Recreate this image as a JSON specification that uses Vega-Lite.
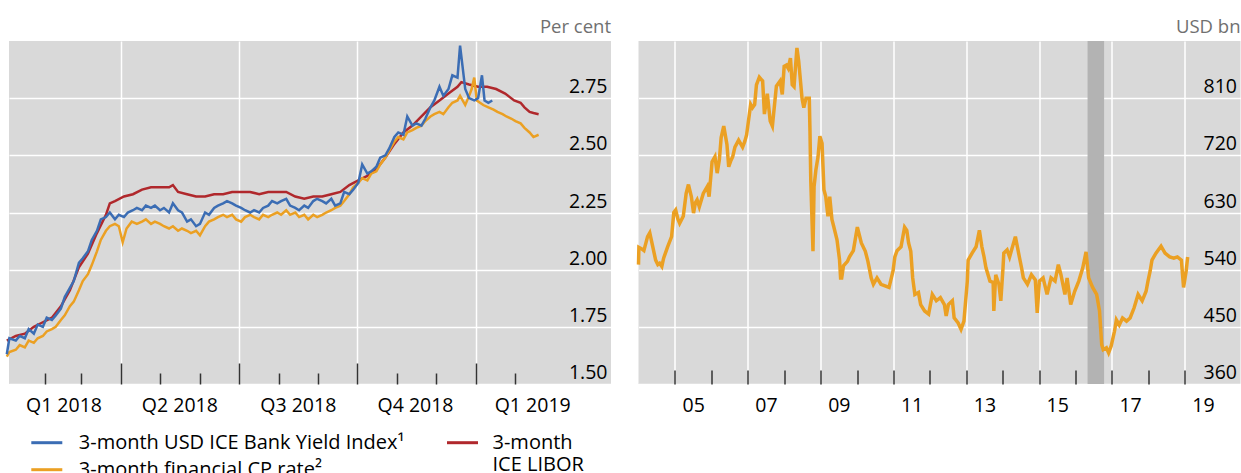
{
  "$schema": "https://vega.github.io/schema/vega-lite/v6.json",
  "background": "white",
  "padding": {"left": 1, "top": 18, "right": 1, "bottom": 2},
  "config": {
    "font": "Open Sans",
    "view": {"stroke": null, "fill": "#d9d9d9"},
    "axis": {"labelFontSize": 19.5, "labelColor": "#000000", "labelFont": "Open Sans", "labelFlush": false, "labelOverlap": false, "domain": false, "title": null},
    "legend": {"labelFont": "Open Sans"}
  },
  "datasets": {
    "libor": [
      {"d":"2018-01-02","v":1.69},{"d":"2018-01-09","v":1.71},{"d":"2018-01-16","v":1.72},{"d":"2018-01-23","v":1.75},{"d":"2018-01-30","v":1.77},
      {"d":"2018-02-06","v":1.79},{"d":"2018-02-13","v":1.84},{"d":"2018-02-20","v":1.91},{"d":"2018-02-27","v":2.01},{"d":"2018-03-06","v":2.07},
      {"d":"2018-03-13","v":2.16},{"d":"2018-03-20","v":2.24},{"d":"2018-03-23","v":2.29},{"d":"2018-03-27","v":2.30},{"d":"2018-04-03","v":2.32},
      {"d":"2018-04-10","v":2.33},{"d":"2018-04-17","v":2.35},{"d":"2018-04-24","v":2.36},{"d":"2018-05-01","v":2.36},{"d":"2018-05-08","v":2.36},
      {"d":"2018-05-11","v":2.37},{"d":"2018-05-15","v":2.34},{"d":"2018-05-22","v":2.33},{"d":"2018-05-29","v":2.32},{"d":"2018-06-05","v":2.32},
      {"d":"2018-06-12","v":2.33},{"d":"2018-06-19","v":2.33},{"d":"2018-06-26","v":2.34},{"d":"2018-07-03","v":2.34},{"d":"2018-07-10","v":2.34},
      {"d":"2018-07-17","v":2.33},{"d":"2018-07-24","v":2.34},{"d":"2018-07-31","v":2.34},{"d":"2018-08-07","v":2.34},{"d":"2018-08-14","v":2.32},
      {"d":"2018-08-21","v":2.31},{"d":"2018-08-28","v":2.32},{"d":"2018-09-04","v":2.32},{"d":"2018-09-11","v":2.33},{"d":"2018-09-18","v":2.34},
      {"d":"2018-09-25","v":2.37},{"d":"2018-10-02","v":2.39},{"d":"2018-10-09","v":2.41},{"d":"2018-10-16","v":2.44},{"d":"2018-10-23","v":2.49},
      {"d":"2018-10-30","v":2.55},{"d":"2018-11-06","v":2.60},{"d":"2018-11-13","v":2.63},{"d":"2018-11-20","v":2.67},{"d":"2018-11-27","v":2.71},
      {"d":"2018-12-04","v":2.74},{"d":"2018-12-11","v":2.77},{"d":"2018-12-18","v":2.80},{"d":"2018-12-21","v":2.82},{"d":"2018-12-27","v":2.81},
      {"d":"2019-01-03","v":2.80},{"d":"2019-01-10","v":2.80},{"d":"2019-01-17","v":2.79},{"d":"2019-01-24","v":2.77},{"d":"2019-01-31","v":2.74},
      {"d":"2019-02-05","v":2.73},{"d":"2019-02-08","v":2.71},{"d":"2019-02-12","v":2.69},{"d":"2019-02-15","v":2.685},{"d":"2019-02-19","v":2.68}
    ],
    "byi": [
      {"d":"2018-01-02","v":1.63},{"d":"2018-01-04","v":1.70},{"d":"2018-01-09","v":1.69},{"d":"2018-01-12","v":1.71},{"d":"2018-01-16","v":1.70},
      {"d":"2018-01-19","v":1.74},{"d":"2018-01-23","v":1.72},{"d":"2018-01-26","v":1.76},{"d":"2018-01-30","v":1.75},{"d":"2018-02-02","v":1.79},
      {"d":"2018-02-06","v":1.78},{"d":"2018-02-09","v":1.80},{"d":"2018-02-13","v":1.83},{"d":"2018-02-16","v":1.88},{"d":"2018-02-20","v":1.92},
      {"d":"2018-02-23","v":1.95},{"d":"2018-02-27","v":2.03},{"d":"2018-03-02","v":2.05},{"d":"2018-03-06","v":2.08},{"d":"2018-03-09","v":2.13},
      {"d":"2018-03-13","v":2.17},{"d":"2018-03-16","v":2.22},{"d":"2018-03-20","v":2.23},{"d":"2018-03-23","v":2.25},{"d":"2018-03-27","v":2.22},
      {"d":"2018-03-30","v":2.24},{"d":"2018-04-03","v":2.23},{"d":"2018-04-06","v":2.25},{"d":"2018-04-10","v":2.26},{"d":"2018-04-13","v":2.27},
      {"d":"2018-04-17","v":2.26},{"d":"2018-04-20","v":2.28},{"d":"2018-04-24","v":2.27},{"d":"2018-04-27","v":2.28},{"d":"2018-05-01","v":2.26},
      {"d":"2018-05-04","v":2.27},{"d":"2018-05-08","v":2.25},{"d":"2018-05-11","v":2.29},{"d":"2018-05-15","v":2.26},{"d":"2018-05-18","v":2.25},
      {"d":"2018-05-22","v":2.21},{"d":"2018-05-25","v":2.22},{"d":"2018-05-29","v":2.19},{"d":"2018-06-01","v":2.20},{"d":"2018-06-05","v":2.25},
      {"d":"2018-06-08","v":2.24},{"d":"2018-06-12","v":2.27},{"d":"2018-06-15","v":2.28},{"d":"2018-06-19","v":2.29},{"d":"2018-06-22","v":2.30},
      {"d":"2018-06-26","v":2.29},{"d":"2018-06-29","v":2.28},{"d":"2018-07-03","v":2.27},{"d":"2018-07-06","v":2.26},{"d":"2018-07-10","v":2.25},
      {"d":"2018-07-13","v":2.26},{"d":"2018-07-17","v":2.25},{"d":"2018-07-20","v":2.27},{"d":"2018-07-24","v":2.28},{"d":"2018-07-27","v":2.30},
      {"d":"2018-07-31","v":2.29},{"d":"2018-08-03","v":2.30},{"d":"2018-08-07","v":2.31},{"d":"2018-08-10","v":2.28},{"d":"2018-08-14","v":2.27},
      {"d":"2018-08-17","v":2.26},{"d":"2018-08-21","v":2.28},{"d":"2018-08-24","v":2.27},{"d":"2018-08-28","v":2.30},{"d":"2018-08-31","v":2.31},
      {"d":"2018-09-04","v":2.30},{"d":"2018-09-07","v":2.29},{"d":"2018-09-11","v":2.31},{"d":"2018-09-14","v":2.28},{"d":"2018-09-18","v":2.29},
      {"d":"2018-09-21","v":2.34},{"d":"2018-09-25","v":2.33},{"d":"2018-09-28","v":2.35},{"d":"2018-10-02","v":2.38},{"d":"2018-10-05","v":2.46},
      {"d":"2018-10-09","v":2.42},{"d":"2018-10-12","v":2.43},{"d":"2018-10-16","v":2.45},{"d":"2018-10-19","v":2.49},{"d":"2018-10-23","v":2.50},
      {"d":"2018-10-26","v":2.53},{"d":"2018-10-30","v":2.58},{"d":"2018-11-02","v":2.60},{"d":"2018-11-06","v":2.59},{"d":"2018-11-09","v":2.67},
      {"d":"2018-11-13","v":2.63},{"d":"2018-11-16","v":2.64},{"d":"2018-11-20","v":2.63},{"d":"2018-11-23","v":2.66},{"d":"2018-11-27","v":2.71},
      {"d":"2018-11-30","v":2.74},{"d":"2018-12-04","v":2.80},{"d":"2018-12-07","v":2.76},{"d":"2018-12-11","v":2.79},{"d":"2018-12-14","v":2.85},
      {"d":"2018-12-18","v":2.84},{"d":"2018-12-20","v":2.98},{"d":"2018-12-24","v":2.79},{"d":"2018-12-27","v":2.75},{"d":"2018-12-31","v":2.74},
      {"d":"2019-01-03","v":2.75},{"d":"2019-01-06","v":2.85},{"d":"2019-01-08","v":2.74},{"d":"2019-01-11","v":2.73},{"d":"2019-01-14","v":2.74}
    ],
    "fincp": [
      {"d":"2018-01-02","v":1.62},{"d":"2018-01-04","v":1.64},{"d":"2018-01-09","v":1.65},{"d":"2018-01-12","v":1.67},{"d":"2018-01-16","v":1.66},
      {"d":"2018-01-19","v":1.69},{"d":"2018-01-23","v":1.68},{"d":"2018-01-26","v":1.70},{"d":"2018-01-30","v":1.71},{"d":"2018-02-02","v":1.73},
      {"d":"2018-02-06","v":1.74},{"d":"2018-02-09","v":1.75},{"d":"2018-02-13","v":1.78},{"d":"2018-02-16","v":1.80},{"d":"2018-02-20","v":1.84},
      {"d":"2018-02-23","v":1.86},{"d":"2018-02-27","v":1.91},{"d":"2018-03-02","v":1.95},{"d":"2018-03-06","v":1.98},{"d":"2018-03-09","v":2.02},
      {"d":"2018-03-13","v":2.08},{"d":"2018-03-16","v":2.13},{"d":"2018-03-20","v":2.17},{"d":"2018-03-23","v":2.19},{"d":"2018-03-27","v":2.20},
      {"d":"2018-03-30","v":2.19},{"d":"2018-04-02","v":2.12},{"d":"2018-04-05","v":2.18},{"d":"2018-04-09","v":2.21},{"d":"2018-04-13","v":2.20},
      {"d":"2018-04-17","v":2.21},{"d":"2018-04-20","v":2.22},{"d":"2018-04-24","v":2.20},{"d":"2018-04-27","v":2.21},{"d":"2018-05-01","v":2.20},
      {"d":"2018-05-04","v":2.19},{"d":"2018-05-08","v":2.18},{"d":"2018-05-11","v":2.19},{"d":"2018-05-15","v":2.17},{"d":"2018-05-18","v":2.18},
      {"d":"2018-05-22","v":2.17},{"d":"2018-05-25","v":2.16},{"d":"2018-05-29","v":2.17},{"d":"2018-06-01","v":2.15},{"d":"2018-06-05","v":2.19},
      {"d":"2018-06-08","v":2.21},{"d":"2018-06-12","v":2.22},{"d":"2018-06-15","v":2.23},{"d":"2018-06-19","v":2.24},{"d":"2018-06-22","v":2.23},
      {"d":"2018-06-26","v":2.24},{"d":"2018-06-29","v":2.22},{"d":"2018-07-03","v":2.21},{"d":"2018-07-06","v":2.23},{"d":"2018-07-10","v":2.24},
      {"d":"2018-07-13","v":2.23},{"d":"2018-07-17","v":2.22},{"d":"2018-07-20","v":2.24},{"d":"2018-07-24","v":2.23},{"d":"2018-07-27","v":2.24},
      {"d":"2018-07-31","v":2.25},{"d":"2018-08-03","v":2.24},{"d":"2018-08-07","v":2.26},{"d":"2018-08-10","v":2.24},{"d":"2018-08-14","v":2.25},
      {"d":"2018-08-17","v":2.23},{"d":"2018-08-21","v":2.24},{"d":"2018-08-24","v":2.22},{"d":"2018-08-28","v":2.24},{"d":"2018-08-31","v":2.23},
      {"d":"2018-09-04","v":2.24},{"d":"2018-09-07","v":2.25},{"d":"2018-09-11","v":2.26},{"d":"2018-09-14","v":2.27},{"d":"2018-09-18","v":2.28},
      {"d":"2018-09-21","v":2.30},{"d":"2018-09-25","v":2.33},{"d":"2018-09-28","v":2.36},{"d":"2018-10-02","v":2.38},{"d":"2018-10-05","v":2.40},
      {"d":"2018-10-09","v":2.39},{"d":"2018-10-12","v":2.42},{"d":"2018-10-16","v":2.43},{"d":"2018-10-19","v":2.46},{"d":"2018-10-23","v":2.49},
      {"d":"2018-10-26","v":2.52},{"d":"2018-10-30","v":2.56},{"d":"2018-11-02","v":2.58},{"d":"2018-11-06","v":2.57},{"d":"2018-11-09","v":2.60},
      {"d":"2018-11-13","v":2.61},{"d":"2018-11-16","v":2.62},{"d":"2018-11-20","v":2.63},{"d":"2018-11-23","v":2.65},{"d":"2018-11-27","v":2.67},
      {"d":"2018-11-30","v":2.68},{"d":"2018-12-04","v":2.69},{"d":"2018-12-07","v":2.68},{"d":"2018-12-11","v":2.71},{"d":"2018-12-14","v":2.73},
      {"d":"2018-12-18","v":2.74},{"d":"2018-12-20","v":2.76},{"d":"2018-12-24","v":2.72},{"d":"2018-12-27","v":2.76},{"d":"2018-12-29","v":2.79},
      {"d":"2018-12-31","v":2.84},{"d":"2019-01-02","v":2.74},{"d":"2019-01-07","v":2.72},{"d":"2019-01-11","v":2.71},{"d":"2019-01-15","v":2.70},
      {"d":"2019-01-18","v":2.69},{"d":"2019-01-22","v":2.68},{"d":"2019-01-25","v":2.67},{"d":"2019-01-29","v":2.66},{"d":"2019-02-01","v":2.65},
      {"d":"2019-02-05","v":2.64},{"d":"2019-02-08","v":2.62},{"d":"2019-02-12","v":2.60},{"d":"2019-02-15","v":2.58},{"d":"2019-02-19","v":2.59}
    ],
    "cpout": [
      {"d":"2004-01-01","v":548},{"d":"2004-01-05","v":575},{"d":"2004-01-30","v":573},{"d":"2004-02-24","v":570},{"d":"2004-04-01","v":592},
      {"d":"2004-04-23","v":598},{"d":"2004-05-11","v":585},{"d":"2004-06-21","v":555},{"d":"2004-07-13","v":548},{"d":"2004-07-31","v":550},
      {"d":"2004-08-22","v":545},{"d":"2004-09-09","v":558},{"d":"2004-10-19","v":576},{"d":"2004-11-28","v":592},{"d":"2004-12-20","v":630},
      {"d":"2005-01-08","v":634},{"d":"2005-01-30","v":620},{"d":"2005-02-17","v":613},{"d":"2005-03-25","v":624},{"d":"2005-04-23","v":660},
      {"d":"2005-05-16","v":674},{"d":"2005-06-14","v":655},{"d":"2005-07-06","v":629},{"d":"2005-07-24","v":645},{"d":"2005-08-11","v":650},
      {"d":"2005-09-02","v":639},{"d":"2005-10-12","v":660},{"d":"2005-11-21","v":671},{"d":"2005-12-09","v":655},{"d":"2006-01-08","v":710},
      {"d":"2006-02-06","v":718},{"d":"2006-02-28","v":692},{"d":"2006-03-22","v":713},{"d":"2006-04-09","v":748},{"d":"2006-05-05","v":766},
      {"d":"2006-06-06","v":737},{"d":"2006-06-24","v":702},{"d":"2006-07-16","v":712},{"d":"2006-08-03","v":718},{"d":"2006-08-25","v":733},
      {"d":"2006-10-01","v":744},{"d":"2006-11-10","v":733},{"d":"2006-12-02","v":742},{"d":"2006-12-20","v":752},{"d":"2007-01-30","v":800},
      {"d":"2007-02-17","v":795},{"d":"2007-03-11","v":800},{"d":"2007-03-29","v":831},{"d":"2007-04-27","v":843},{"d":"2007-05-30","v":837},
      {"d":"2007-06-17","v":785},{"d":"2007-07-16","v":817},{"d":"2007-08-14","v":774},{"d":"2007-09-05","v":766},{"d":"2007-10-15","v":829},
      {"d":"2007-11-21","v":837},{"d":"2007-12-13","v":816},{"d":"2008-01-01","v":860},{"d":"2008-01-23","v":862},{"d":"2008-02-10","v":857},
      {"d":"2008-03-04","v":873},{"d":"2008-03-22","v":831},{"d":"2008-04-09","v":828},{"d":"2008-05-08","v":889},{"d":"2008-05-26","v":868},
      {"d":"2008-06-28","v":810},{"d":"2008-07-16","v":795},{"d":"2008-08-07","v":810},{"d":"2008-09-09","v":810},{"d":"2008-09-16","v":758},
      {"d":"2008-09-24","v":680},{"d":"2008-10-16","v":569},{"d":"2008-10-27","v":671},{"d":"2008-11-14","v":697},{"d":"2008-12-06","v":718},
      {"d":"2008-12-24","v":750},{"d":"2009-01-15","v":739},{"d":"2009-02-03","v":666},{"d":"2009-02-21","v":655},{"d":"2009-03-15","v":624},
      {"d":"2009-04-02","v":655},{"d":"2009-04-24","v":619},{"d":"2009-05-12","v":608},{"d":"2009-06-14","v":587},{"d":"2009-07-09","v":556},
      {"d":"2009-07-20","v":527},{"d":"2009-07-31","v":527},{"d":"2009-08-18","v":546},{"d":"2009-09-27","v":553},{"d":"2009-10-16","v":560},
      {"d":"2009-11-25","v":570},{"d":"2010-01-04","v":607},{"d":"2010-02-13","v":582},{"d":"2010-03-25","v":569},{"d":"2010-04-20","v":553},
      {"d":"2010-05-23","v":527},{"d":"2010-06-14","v":517},{"d":"2010-07-20","v":527},{"d":"2010-08-29","v":517},{"d":"2010-11-18","v":512},
      {"d":"2010-12-28","v":538},{"d":"2011-01-15","v":560},{"d":"2011-02-06","v":570},{"d":"2011-03-18","v":576},{"d":"2011-04-23","v":607},
      {"d":"2011-05-15","v":602},{"d":"2011-06-02","v":582},{"d":"2011-06-24","v":569},{"d":"2011-07-13","v":527},{"d":"2011-08-04","v":501},
      {"d":"2011-09-09","v":504},{"d":"2011-10-01","v":485},{"d":"2011-11-10","v":475},{"d":"2011-12-20","v":470},{"d":"2012-01-26","v":501},
      {"d":"2012-03-06","v":491},{"d":"2012-04-16","v":496},{"d":"2012-05-26","v":485},{"d":"2012-06-13","v":467},{"d":"2012-07-05","v":485},
      {"d":"2012-08-14","v":491},{"d":"2012-09-01","v":464},{"d":"2012-10-11","v":456},{"d":"2012-11-09","v":446},{"d":"2012-12-08","v":459},
      {"d":"2013-01-11","v":522},{"d":"2013-01-19","v":555},{"d":"2013-02-28","v":566},{"d":"2013-04-09","v":576},{"d":"2013-05-12","v":602},
      {"d":"2013-06-06","v":576},{"d":"2013-06-28","v":560},{"d":"2013-07-17","v":543},{"d":"2013-08-26","v":522},{"d":"2013-09-27","v":520},
      {"d":"2013-10-04","v":475},{"d":"2013-10-23","v":532},{"d":"2013-11-24","v":517},{"d":"2013-12-13","v":491},{"d":"2014-01-04","v":543},
      {"d":"2014-01-12","v":566},{"d":"2014-02-14","v":571},{"d":"2014-03-11","v":560},{"d":"2014-05-08","v":592},{"d":"2014-06-17","v":560},
      {"d":"2014-07-09","v":543},{"d":"2014-07-27","v":527},{"d":"2014-09-06","v":517},{"d":"2014-10-16","v":532},{"d":"2014-11-24","v":524},
      {"d":"2014-12-13","v":472},{"d":"2015-01-04","v":522},{"d":"2015-02-10","v":527},{"d":"2015-03-22","v":501},{"d":"2015-05-01","v":527},
      {"d":"2015-06-10","v":522},{"d":"2015-07-13","v":548},{"d":"2015-08-08","v":532},{"d":"2015-09-17","v":501},{"d":"2015-10-09","v":527},
      {"d":"2015-11-14","v":485},{"d":"2015-12-24","v":506},{"d":"2016-02-03","v":522},{"d":"2016-03-14","v":543},{"d":"2016-04-16","v":568},
      {"d":"2016-05-12","v":527},{"d":"2016-06-21","v":512},{"d":"2016-07-31","v":501},{"d":"2016-08-29","v":475},{"d":"2016-09-20","v":422},
      {"d":"2016-10-05","v":414},{"d":"2016-11-06","v":417},{"d":"2016-11-28","v":409},{"d":"2016-12-24","v":420},{"d":"2017-01-26","v":443},
      {"d":"2017-02-14","v":461},{"d":"2017-03-15","v":453},{"d":"2017-04-17","v":464},{"d":"2017-05-27","v":459},{"d":"2017-07-02","v":464},
      {"d":"2017-08-11","v":480},{"d":"2017-09-20","v":501},{"d":"2017-10-31","v":491},{"d":"2017-12-09","v":506},{"d":"2017-12-28","v":522},
      {"d":"2018-01-19","v":538},{"d":"2018-02-06","v":555},{"d":"2018-03-18","v":566},{"d":"2018-05-08","v":577},{"d":"2018-06-17","v":566},
      {"d":"2018-08-03","v":560},{"d":"2018-09-13","v":558},{"d":"2018-10-19","v":560},{"d":"2018-11-28","v":555},{"d":"2018-12-20","v":512},
      {"d":"2019-01-15","v":538},{"d":"2019-01-30","v":560}
    ],
    "band": [{"start":"2016-05-01","end":"2016-10-14"}]
  },
  "hconcat": [
    {
      "width": 602,
      "height": 343,
      "title": {"text": "Per cent", "anchor": "end", "fontSize": 18.5, "fontWeight": "normal", "color": "#707070", "font": "Open Sans", "offset": 4},
      "layer": [
        {
          "data": {"values": []},
          "mark": "rule",
          "encoding": {
            "x": {"field": "d", "type": "temporal",
              "scale": {"type": "utc", "domain": [{"year":2018,"month":1,"date":3,"hours":17,"utc":true},{"year":2019,"month":4,"date":16,"hours":5,"utc":true}]},
              "axis": {"orient": "bottom", "values": [{"year":2018,"month":4,"date":1,"utc":true},{"year":2018,"month":7,"date":1,"utc":true},{"year":2018,"month":10,"date":1,"utc":true},{"year":2019,"month":1,"date":1,"utc":true}],
                "labels": false, "grid": true, "gridColor": "#ffffff", "gridWidth": 1.5, "ticks": true, "tickSize": -21, "tickColor": "#333333", "tickWidth": 1.5}}
          }
        },
        {
          "data": {"values": []},
          "mark": "rule",
          "encoding": {
            "x": {"field": "d", "type": "temporal",
              "scale": {"type": "utc", "domain": [{"year":2018,"month":1,"date":3,"hours":17,"utc":true},{"year":2019,"month":4,"date":16,"hours":5,"utc":true}]},
              "axis": {"orient": "bottom", "values": [{"year":2018,"month":2,"date":1,"utc":true},{"year":2018,"month":3,"date":1,"utc":true},{"year":2018,"month":5,"date":1,"utc":true},{"year":2018,"month":6,"date":1,"utc":true},{"year":2018,"month":8,"date":1,"utc":true},{"year":2018,"month":9,"date":1,"utc":true},{"year":2018,"month":11,"date":1,"utc":true},{"year":2018,"month":12,"date":1,"utc":true},{"year":2019,"month":2,"date":1,"utc":true}],
                "labels": false, "grid": false, "ticks": true, "tickSize": -11, "tickColor": "#333333", "tickWidth": 1.5}}
          }
        },
        {
          "data": {"name": "libor"},
          "mark": {"type": "line", "strokeWidth": 2.5},
          "encoding": {
            "x": {"field": "d", "type": "temporal",
              "scale": {"type": "utc", "domain": [{"year":2018,"month":1,"date":3,"hours":17,"utc":true},{"year":2019,"month":4,"date":16,"hours":5,"utc":true}]},
              "axis": {"orient": "bottom", "values": [{"year":2018,"month":2,"date":15,"utc":true},{"year":2018,"month":5,"date":16,"utc":true},{"year":2018,"month":8,"date":16,"utc":true},{"year":2018,"month":11,"date":15,"utc":true},{"year":2019,"month":2,"date":14,"utc":true}],
                "labelExpr": "'Q' + (floor(utcmonth(datum.value)/3)+1) + ' ' + utcyear(datum.value)",
                "ticks": false, "grid": false, "labelPadding": 12.5}},
            "y": {"field": "v", "type": "quantitative",
              "scale": {"domain": [1.5, 3.0], "zero": false, "nice": false},
              "axis": {"orient": "right", "values": [1.5, 1.75, 2, 2.25, 2.5, 2.75], "format": ".2f", "labelAlign": "right", "labelBaseline": "alphabetic", "labelPadding": -4, "labelOffset": -5.5, "ticks": false, "grid": true, "gridColor": "#ffffff", "gridWidth": 1.5}},
            "stroke": {"datum": "3-month ICE LIBOR", "type": "nominal",
              "scale": {"domain": ["3-month ICE LIBOR"], "range": ["#b0282c"]},
              "legend": {"orient": "none", "legendX": 436.5, "legendY": 384.7, "title": null, "symbolType": "stroke", "symbolSize": 961, "symbolStrokeWidth": 3, "labelFontSize": 20, "labelOffset": 13, "labelLimit": 600, "labelColor": "#000000", "labelExpr": "['3-month', 'ICE LIBOR']", "labelBaseline": "middle", "labelLineHeight": 24, "padding": 0}}
          }
        },
        {
          "data": {"name": "fincp"},
          "mark": {"type": "line", "strokeWidth": 2.5},
          "encoding": {
            "x": {"field": "d", "type": "temporal", "axis": null,
              "scale": {"type": "utc", "domain": [{"year":2018,"month":1,"date":3,"hours":17,"utc":true},{"year":2019,"month":4,"date":16,"hours":5,"utc":true}]}},
            "y": {"field": "v", "type": "quantitative"},
            "color": {"datum": "3-month financial CP rate²", "type": "nominal"}
          }
        },
        {
          "data": {"name": "byi"},
          "mark": {"type": "line", "strokeWidth": 2.5},
          "encoding": {
            "x": {"field": "d", "type": "temporal", "axis": null,
              "scale": {"type": "utc", "domain": [{"year":2018,"month":1,"date":3,"hours":17,"utc":true},{"year":2019,"month":4,"date":16,"hours":5,"utc":true}]}},
            "y": {"field": "v", "type": "quantitative"},
            "color": {"datum": "3-month USD ICE Bank Yield Index¹", "type": "nominal",
              "scale": {"domain": ["3-month USD ICE Bank Yield Index¹", "3-month financial CP rate²"], "range": ["#3b6db4", "#eba023"]},
              "legend": {"orient": "none", "legendX": 20.8, "legendY": 384.7, "title": null, "direction": "vertical", "symbolType": "stroke", "symbolSize": 961, "symbolStrokeWidth": 3, "labelFontSize": 20, "labelOffset": 15, "labelLimit": 600, "labelColor": "#000000", "rowPadding": 0, "padding": 0}}
          }
        }
      ],
      "resolve": {"axis": {"x": "independent"}}
    },
    {
      "width": 602,
      "height": 343,
      "title": {"text": "USD bn", "anchor": "end", "fontSize": 18.5, "fontWeight": "normal", "color": "#707070", "font": "Open Sans", "offset": 4},
      "layer": [
        {
          "data": {"name": "band"},
          "mark": {"type": "rect", "color": "#b3b3b3"},
          "encoding": {
            "x": {"field": "start", "type": "temporal",
              "scale": {"type": "utc", "domain": [{"year":2004,"month":1,"date":1,"utc":true},{"year":2020,"month":7,"date":13,"utc":true}]},
              "axis": {"orient": "bottom", "values": [{"year":2005,"month":1,"date":1,"utc":true},{"year":2007,"month":1,"date":1,"utc":true},{"year":2009,"month":1,"date":1,"utc":true},{"year":2011,"month":1,"date":1,"utc":true},{"year":2013,"month":1,"date":1,"utc":true},{"year":2015,"month":1,"date":1,"utc":true},{"year":2017,"month":1,"date":1,"utc":true},{"year":2019,"month":1,"date":1,"utc":true}],
                "labels": false, "ticks": false, "grid": true, "gridColor": "#ffffff", "gridWidth": 1.5}},
            "x2": {"field": "end"}
          }
        },
        {
          "data": {"values": []},
          "mark": "rule",
          "encoding": {
            "x": {"field": "d", "type": "temporal",
              "scale": {"type": "utc", "domain": [{"year":2004,"month":1,"date":1,"utc":true},{"year":2020,"month":7,"date":13,"utc":true}]},
              "axis": {"orient": "bottom", "values": [{"year":2005,"month":1,"date":1,"utc":true},{"year":2006,"month":1,"date":1,"utc":true},{"year":2007,"month":1,"date":1,"utc":true},{"year":2008,"month":1,"date":1,"utc":true},{"year":2009,"month":1,"date":1,"utc":true},{"year":2010,"month":1,"date":1,"utc":true},{"year":2011,"month":1,"date":1,"utc":true},{"year":2012,"month":1,"date":1,"utc":true},{"year":2013,"month":1,"date":1,"utc":true},{"year":2014,"month":1,"date":1,"utc":true},{"year":2015,"month":1,"date":1,"utc":true},{"year":2016,"month":1,"date":1,"utc":true},{"year":2017,"month":1,"date":1,"utc":true},{"year":2018,"month":1,"date":1,"utc":true},{"year":2019,"month":1,"date":1,"utc":true}],
                "labels": false, "grid": false, "ticks": true, "tickSize": -14, "tickColor": "#333333", "tickWidth": 1.5}}
          }
        },
        {
          "data": {"name": "cpout"},
          "mark": {"type": "line", "strokeWidth": 3.5, "color": "#eba023"},
          "encoding": {
            "x": {"field": "d", "type": "temporal",
              "scale": {"type": "utc", "domain": [{"year":2004,"month":1,"date":1,"utc":true},{"year":2020,"month":7,"date":13,"utc":true}]},
              "axis": {"orient": "bottom", "values": [{"year":2005,"month":7,"date":2,"utc":true},{"year":2007,"month":7,"date":2,"utc":true},{"year":2009,"month":7,"date":2,"utc":true},{"year":2011,"month":7,"date":2,"utc":true},{"year":2013,"month":7,"date":2,"utc":true},{"year":2015,"month":7,"date":2,"utc":true},{"year":2017,"month":7,"date":2,"utc":true},{"year":2019,"month":7,"date":2,"utc":true}],
                "labelExpr": "utcFormat(datum.value, '%y')", "ticks": false, "grid": false, "labelPadding": 12.5}},
            "y": {"field": "v", "type": "quantitative",
              "scale": {"domain": [360, 900], "zero": false, "nice": false},
              "axis": {"orient": "right", "values": [360, 450, 540, 630, 720, 810], "format": "d", "labelAlign": "right", "labelBaseline": "alphabetic", "labelPadding": -4, "labelOffset": -5.5, "ticks": false, "grid": true, "gridColor": "#ffffff", "gridWidth": 1.5}}
          }
        }
      ],
      "resolve": {"axis": {"x": "independent"}}
    }
  ],
  "spacing": 27.5,
  "bounds": "flush"
}
